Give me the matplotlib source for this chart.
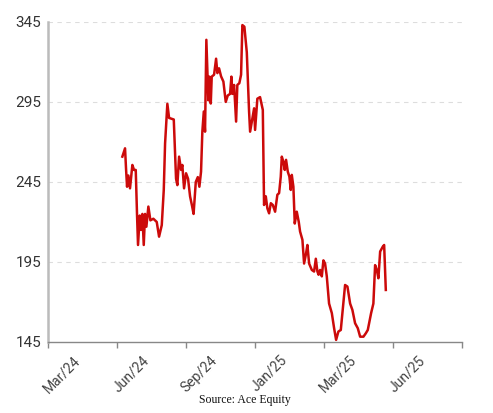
import matplotlib
matplotlib.use('agg')
import matplotlib.pyplot as plt
from matplotlib.ticker import FixedLocator, NullFormatter, FixedFormatter

# x is in axis periods (one period between each tick mark)
x_pos = [1.077, 1.116, 1.130, 1.145, 1.164, 1.188, 1.222, 1.246, 1.271, 1.290,
         1.304, 1.329, 1.348, 1.367, 1.387, 1.406, 1.425, 1.454, 1.483, 1.526,
         1.575, 1.609, 1.648, 1.677, 1.696, 1.729, 1.754, 1.822, 1.855, 1.874,
         1.899, 1.928, 1.946, 1.971, 2.000, 2.029, 2.058, 2.087, 2.109, 2.141,
         2.170, 2.193, 2.217, 2.236, 2.257, 2.275, 2.294, 2.323, 2.338, 2.358,
         2.372, 2.406, 2.435, 2.454, 2.478, 2.507, 2.541, 2.575, 2.604, 2.638,
         2.657, 2.671, 2.696, 2.725, 2.743, 2.772, 2.797, 2.816, 2.845, 2.880,
         2.894, 2.913, 2.928, 2.967, 2.986, 3.000, 3.033, 3.072, 3.112, 3.130,
         3.155, 3.178, 3.203, 3.228, 3.257, 3.290, 3.323, 3.348, 3.372, 3.387,
         3.410, 3.430, 3.449, 3.474, 3.497, 3.517, 3.532, 3.555, 3.575, 3.604,
         3.633, 3.652, 3.686, 3.710, 3.739, 3.758, 3.783, 3.822, 3.855, 3.880,
         3.903, 3.920, 3.942, 3.967, 3.990, 4.014, 4.039, 4.072, 4.112, 4.145,
         4.174, 4.207, 4.242, 4.280, 4.304, 4.338, 4.377, 4.410, 4.449, 4.488,
         4.522, 4.570, 4.604, 4.633, 4.681, 4.714, 4.739, 4.764, 4.787, 4.812,
         4.851, 4.870, 4.894]
price = [260.8, 266.0, 253.5, 242.0, 249.0, 241.0, 255.6, 252.5, 252.5, 224.0,
         205.6, 224.0, 215.0, 225.0, 205.6, 225.0, 217.0, 229.6, 221.0, 222.0,
         220.0, 210.8, 218.0, 240.0, 269.0, 293.8, 285.0, 284.0, 247.0, 243.0,
         260.8, 252.5, 255.6, 241.0, 250.4, 247.0, 236.0, 230.0, 225.0, 245.0,
         248.0, 242.0, 251.4, 276.4, 289.0, 276.4, 333.8, 296.0, 310.8, 294.0,
         310.8, 312.0, 322.0, 313.0, 316.0, 311.0, 307.7, 295.0, 299.0, 300.0,
         310.8, 300.0, 305.6, 282.7, 305.6, 306.7, 312.0, 343.0, 342.0, 326.0,
         311.0, 289.0, 276.4, 286.0, 291.0, 277.5, 297.0, 298.0, 290.0, 230.6,
         236.0, 228.5, 225.4, 231.7, 230.6, 226.4, 237.0, 238.0, 248.3, 260.8,
         257.7, 252.5, 258.8, 251.4, 248.3, 240.0, 249.4, 242.0, 219.0, 226.4,
         220.0, 214.0, 208.8, 194.0, 200.4, 205.6, 194.0, 190.0, 189.0, 197.0,
         189.0, 187.0, 190.0, 186.0, 196.0, 194.0, 186.0, 169.0, 163.0, 153.6,
         146.3, 151.5, 152.5, 170.0, 180.6, 179.6, 169.0, 165.0, 156.7, 153.6,
         148.3, 148.3, 150.4, 152.5, 163.0, 169.0, 193.0, 190.0, 184.8, 201.5,
         204.6, 205.6, 177.5]

period_labels = ["Mar/24", "Jun/24", "Sep/24", "Jan/25", "Mar/25", "Jun/25"]
y_ticks = [145, 195, 245, 295, 345]

fig = plt.figure(figsize=(4.93, 4.13), dpi=100)
ax = fig.add_axes([0.0974, 0.172, 0.840, 0.775])

for y in y_ticks[1:]:
    ax.axhline(y, color='#dddddd', linewidth=0.8, linestyle=(0, (4, 4)), zorder=1)

ax.plot(x_pos, price, color='#cc0a0a', linewidth=1.8, zorder=3)

ax.set_xlim(0, 6)
ax.set_ylim(145, 345)
ax.set_yticks(y_ticks)

ax.xaxis.set_major_locator(FixedLocator(range(7)))
ax.xaxis.set_major_formatter(NullFormatter())
ax.xaxis.set_minor_locator(FixedLocator([i + 0.5 for i in range(6)]))
ax.xaxis.set_minor_formatter(FixedFormatter(period_labels))
ax.tick_params(axis='x', which='major', length=4, width=1, color='#888888', direction='out')
ax.tick_params(axis='x', which='minor', length=0, pad=8, labelsize=10, labelcolor='#444444',
               labelrotation=45)
for lab in ax.get_xticklabels(minor=True):
    lab.set_ha('right')
    lab.set_va('top')
    lab.set_fontfamily('Roboto')

ax.tick_params(axis='y', length=0, pad=5, labelsize=11, labelcolor='#333333')
for lab in ax.get_yticklabels():
    lab.set_fontfamily('Roboto')

for side in ['top', 'right']:
    ax.spines[side].set_visible(False)
ax.spines['left'].set_color('#bbbbbb')
ax.spines['left'].set_linewidth(1.8)
ax.spines['bottom'].set_color('#888888')
ax.spines['bottom'].set_linewidth(1.0)

fig.text(0.497, 0.016, "Source: Ace Equity", ha='center', va='bottom',
         fontfamily='Liberation Serif', fontsize=8.5, color='#111111')

fig.savefig('out.png', dpi=100)
